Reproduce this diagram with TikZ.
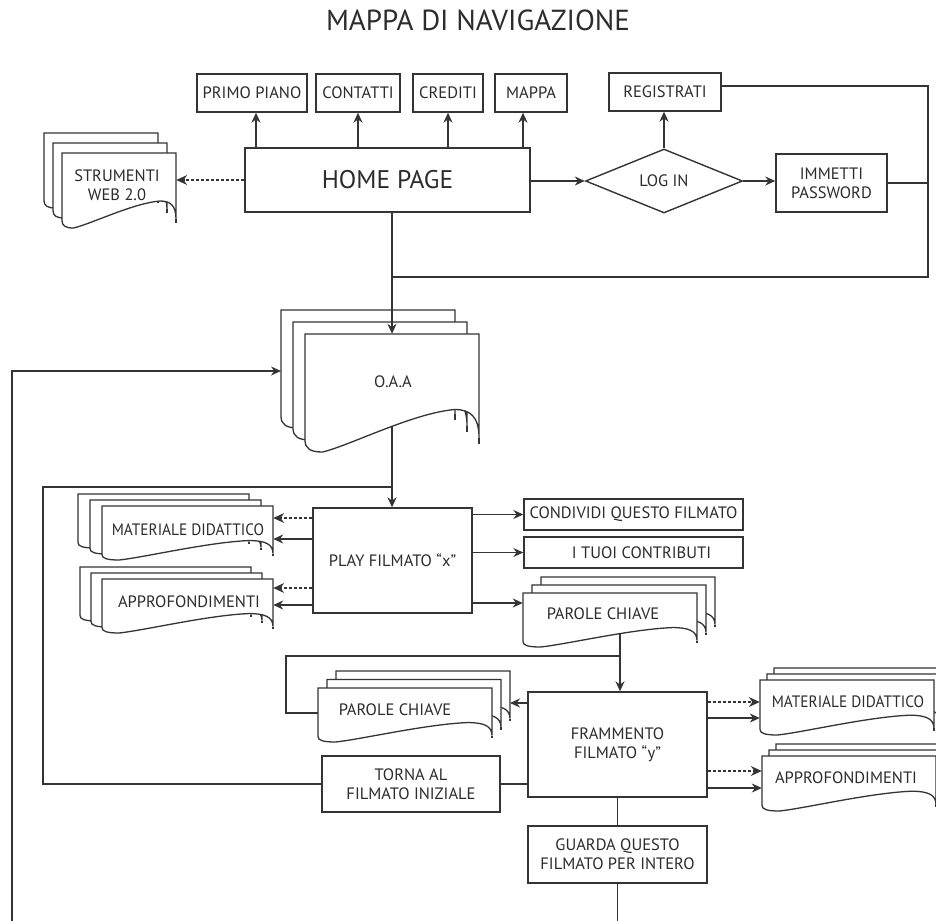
\documentclass[tikz,border=0pt]{standalone}
\usepackage{fontspec}
\setmainfont{PT Sans}
\usetikzlibrary{shapes.geometric,arrows.meta,backgrounds}

\definecolor{ink}{HTML}{343434}
\definecolor{txt}{HTML}{2C2C2C}

% one sheet with a wavy lower edge: left, top, right, bottom
\newcommand\docsheet[4]{%
  \pgfmathsetmacro\shL{#1}\pgfmathsetmacro\shT{#2}%
  \pgfmathsetmacro\shR{#3}\pgfmathsetmacro\shB{#4}%
  \pgfmathsetmacro\shW{\shR-\shL}\pgfmathsetmacro\shH{\shB-\shT}%
  \filldraw[sheet] (\shL,\shT) -- (\shR,\shT)
    -- (\shR,{\shB-0.12*\shH})
    .. controls (\shR,{\shB-0.30*\shH}) and ({\shR-0.05*\shW},{\shB-0.36*\shH})
    .. ({\shR-0.14*\shW},{\shB-0.36*\shH})
    .. controls ({\shR-0.38*\shW},{\shB-0.33*\shH}) and ({\shL+0.25*\shW},{\shB-0.05*\shH})
    .. ({\shL+0.1*\shW},\shB)
    .. controls ({\shL+0.03*\shW},\shB) and (\shL,{\shB-0.03*\shH})
    .. (\shL,{\shB-0.1*\shH}) -- cycle;
  \draw[sheet] (\shR,{\shB-0.12*\shH}) -- (\shR,{\shB-0.07*\shH});
}

% a stack of three sheets: left, top, right, bottom of the front sheet,
% shift of each sheet behind it, name
\newcommand\docstack[7]{%
  \docsheet{#1+2*(#5)}{#2+2*(#6)}{#3+2*(#5)}{#4+2*(#6)}
  \docsheet{#1+(#5)}{#2+(#6)}{#3+(#5)}{#4+(#6)}
  \docsheet{#1}{#2}{#3}{#4}
  \node[inner sep=0pt,minimum width={(#3-#1)*1pt},minimum height={(#4-#2)*1pt}]
    (#7) at ({(#1+#3)/2},{(#2+#4)/2}) {};
  \coordinate (#7-bw) at ({#1+2*(#5)},{(#2+#4)/2});
  \coordinate (#7-be) at ({#3+2*(#5)},{(#2+#4)/2});
}

\newcommand\narrow[1]{\scalebox{0.93}[1]{#1}}

\begin{document}
\begin{tikzpicture}[x=1pt,y=-1pt,
  lblfont/.style={font=\fontsize{16.5}{19}\selectfont},
  box/.style={draw=ink,line width=1.4pt,fill=white,inner sep=0pt,
    align=center,text=txt,lblfont},
  sheet/.style={draw=ink,line width=1.3pt,fill=white},
  lbl/.style={text=txt,align=center,lblfont,inner sep=1pt},
  line/.style={draw=ink,line width=1.4pt},
  arr/.style={line,-{Stealth[length=10pt,width=9pt]}},
  darr/.style={line,line width=2.2pt,dash pattern=on 3pt off 2pt,
    -{Stealth[length=11pt,width=10pt,line width=0pt]}}]

\useasboundingbox (0,0) rectangle (936,920);

% title
\node[text=txt,font=\fontsize{29}{32}\selectfont] (title) at (478,20) {MAPPA DI NAVIGAZIONE};

% top row
\node[box,minimum width=110pt,minimum height=38pt] (primo) at (252,93) {PRIMO PIANO};
\node[box,minimum width=84pt,minimum height=38pt] (contatti) at (358,93) {CONTATTI};
\node[box,minimum width=70pt,minimum height=38pt] (crediti) at (448,93) {CREDITI};
\node[box,minimum width=72pt,minimum height=38pt] (mappa) at (531,93) {MAPPA};
\node[box,minimum width=112pt,minimum height=38pt] (registrati) at (665,92) {REGISTRATI};

\node[box,line width=2.3pt,minimum width=285pt,minimum height=64pt,
  font=\fontsize{25.5}{28}\selectfont] (home) at (387.5,180) {HOME PAGE};
\node[draw=ink,line width=1.4pt,fill=white,diamond,inner sep=0pt,
  minimum width=157pt,minimum height=64pt,text=txt,lblfont] (login) at (664,181) {LOG IN};
\node[box,minimum width=111pt,minimum height=58pt] (immetti) at (831.5,183) {IMMETTI\\PASSWORD};

% document stacks
\docstack{62}{153}{176}{228}{-9}{-10}{strum}
\node[lbl] (strum-t) at (117,185) {STRUMENTI\\WEB 2.0};
\docstack{305}{334}{479}{452}{-12}{-12}{oaa}
\node[lbl] (oaa-t) at (393,382) {O.A.A};

\node[box,minimum width=159pt,minimum height=105pt] (play) at (392.5,560.5) {PLAY FILMATO “x”};
\docstack{102}{506}{273}{560}{-12}{-6}{matl}
\node[lbl] (matl-t) at (188,530) {\narrow{MATERIALE DIDATTICO}};
\docstack{102}{579}{273}{633}{-11}{-6}{apprl}
\node[lbl] (apprl-t) at (189,602) {APPROFONDIMENTI};

\node[box,minimum width=219pt,minimum height=31pt] (condividi) at (633.5,514.5) {CONDIVIDI QUESTO FILMATO};
\node[box,minimum width=219pt,minimum height=31pt] (contributi) at (633.5,552.5) {\hspace*{16pt}I TUOI CONTRIBUTI};
\docstack{523}{593}{697}{647}{9}{-8}{parole1}
\node[lbl] (parole1-t) at (603,614) {PAROLE CHIAVE};

\node[box,minimum width=179pt,minimum height=105pt] (fram) at (617.5,744.5) {FRAMMENTO\\FILMATO “y”};
\docstack{318}{688}{492}{742}{9}{-8.5}{parole2}
\node[lbl] (parole2-t) at (395,710) {PAROLE CHIAVE};
\docstack{760}{680}{934}{735}{7}{-6}{matr}
\node[lbl] (matr-t) at (848,702) {\narrow{MATERIALE DIDATTICO}};
\docstack{762}{756}{936}{811}{7}{-6}{apprr}
\node[lbl] (apprr-t) at (846,778) {APPROFONDIMENTI};

\node[box,minimum width=178pt,minimum height=56pt] (torna) at (411,784) {TORNA AL\\FILMATO INIZIALE};
\node[box,minimum width=179pt,minimum height=57pt] (guarda) at (617.5,854.5) {GUARDA QUESTO\\FILMATO PER INTERO};

\coordinate (junc) at (392,277);
\coordinate (loopjunc) at (392,487);

% paper, and the connectors that start underneath a sheet
\begin{pgfonlayer}{background}
  \fill[white] (0,0) rectangle (936,920);
  \draw[arr] (oaa.center -| loopjunc) -- (play.north -| loopjunc);
  \draw[arr] (parole1.center -| 620,0) -- (fram.north -| 620,0);
\end{pgfonlayer}

% home page links
\draw[arr] (home.north -| 256,0) -- (primo.south -| 256,0);
\draw[arr] (home.north -| contatti) -- (contatti.south);
\draw[arr] (home.north -| crediti) -- (crediti.south);
\draw[arr] (home.north -| 523,0) -- (mappa.south -| 523,0);
\draw[darr] (home.west) -- (strum.east |- home.west);
\draw[arr] (home.east |- login) -- (login.west);
\draw[arr] (login.north) -- (registrati.south -| login.north);
\draw[arr] (login.east) -- (immetti.west |- login.east);
\draw[line] (registrati.east |- 0,86) -| (928,277) -- (junc);
\draw[line] (immetti.east) -- (immetti.east -| 928,0);
\draw[arr] (home.south -| junc) -- (oaa.north -| junc);

% return to the learning objects
\draw[arr] (guarda.south) -- ++(0,60) -| (12,371) -- (oaa-bw |- 12,371);

% play
\draw[line] (torna.west) -| (43,487) -- (loopjunc);
\draw[darr] (play.west |- 0,518) -- (matl.east |- 0,518);
\draw[arr] (play.west |- 0,539) -- (matl.east |- 0,539);
\draw[darr] (play.west |- 0,588) -- (apprl.east |- 0,588);
\draw[arr] (play.west |- 0,605) -- (apprl.east |- 0,605);
\draw[arr] (play.east |- condividi) -- (condividi.west);
\draw[arr] (play.east |- contributi) -- (contributi.west);
\draw[arr] (play.east |- 0,603) -- (parole1.west |- 0,603);

% fragment
\draw[line] (620,656) -| (286,713) -- (parole2.west |- 0,713);
\draw[arr] (fram.west |- 0,703) -- (parole2-be |- 0,703);
\draw[line] (fram.west |- torna) -- (torna.east);
\draw[darr] (fram.east |- 0,702) -- (matr.west |- 0,702);
\draw[arr] (fram.east |- 0,718) -- (matr.west |- 0,718);
\draw[darr] (fram.east |- 0,771) -- (apprr.west |- 0,771);
\draw[arr] (fram.east |- 0,788) -- (apprr.west |- 0,788);
\draw[line] (fram.south) -- (guarda.north);

\end{tikzpicture}
\end{document}
